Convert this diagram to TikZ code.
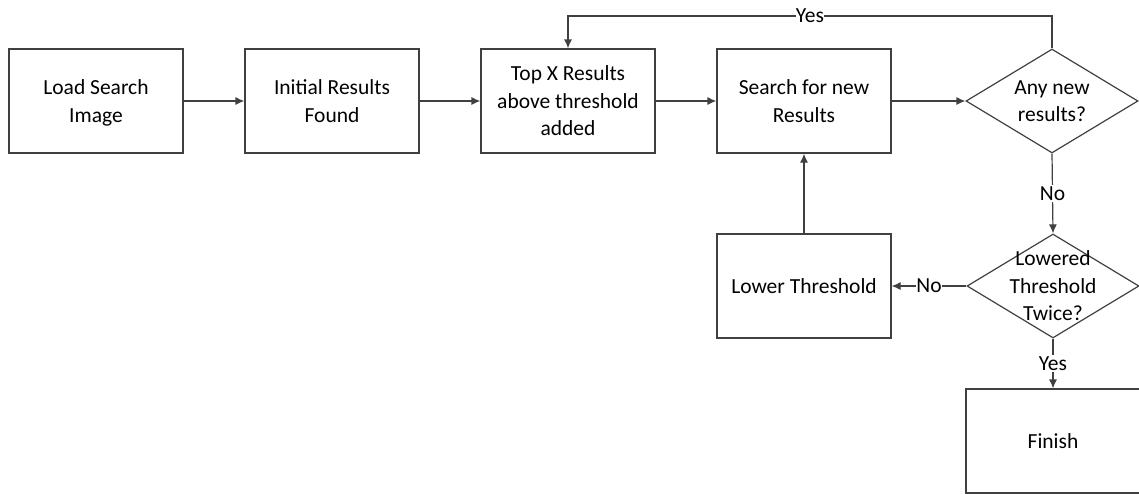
\documentclass[tikz,border=0pt]{standalone}
\usepackage{fontspec}
\setmainfont{Carlito}
\usetikzlibrary{shapes.geometric,arrows.meta}
\begin{document}
\begin{tikzpicture}[x=1pt,y=-1pt,
  every node/.style={font=\fontsize{21.5}{27.5}\selectfont},
  box/.style={draw=black!75,line width=1.2pt,minimum width=174pt,minimum height=104pt,inner sep=0pt,align=center,text depth=0pt},
  dia/.style={diamond,draw=black!75,line width=1.2pt,minimum width=172pt,minimum height=104pt,inner sep=0pt},
  conn/.style={draw=black!75,line width=1.2pt,-{Latex[length=9pt,width=8pt]}},
  lbl/.style={fill=white,inner sep=1pt}]
\clip (0,0) rectangle (1139,493);
\node[box] (load) at (96,101) {Load Search\\Image};
\node[box] (init) at (332,101) {Initial Results\\Found};
\node[box] (topx) at (568,101) {Top X Results\\above threshold\\added};
\node[box] (search) at (804,101) {Search for new\\Results};
\node[dia,label={[align=center]center:Any new\\results?}] (any) at (1052,101) {};
\node[dia,label={[align=center]center:Lowered\\Threshold\\Twice?}] (twice) at (1053,286) {};
\node[box] (lower) at (804,286) {Lower Threshold};
\node[box] (finish) at (1053,441) {Finish};
\coordinate (c1) at (1052,16);
\coordinate (c2) at (568,16);
\draw[conn] (load) -- (init);
\draw[conn] (init) -- (topx);
\draw[conn] (topx) -- (search);
\draw[conn] (search) -- (any);
\draw[conn] (any.north) -- (c1) -- node[lbl,inner sep=0pt] {Yes} (c2) -- (topx.north);
\draw[conn] (any.south) -- node[lbl,inner ysep=2pt] {No} (twice.north);
\draw[conn] (twice.west) -- node[lbl,inner xsep=0pt] {No} (lower.east);
\draw[conn] (lower.north) -- (search.south);
\draw[conn] (twice.south) -- node[lbl,inner ysep=2pt] {Yes} (finish.north);
\end{tikzpicture}
\end{document}
